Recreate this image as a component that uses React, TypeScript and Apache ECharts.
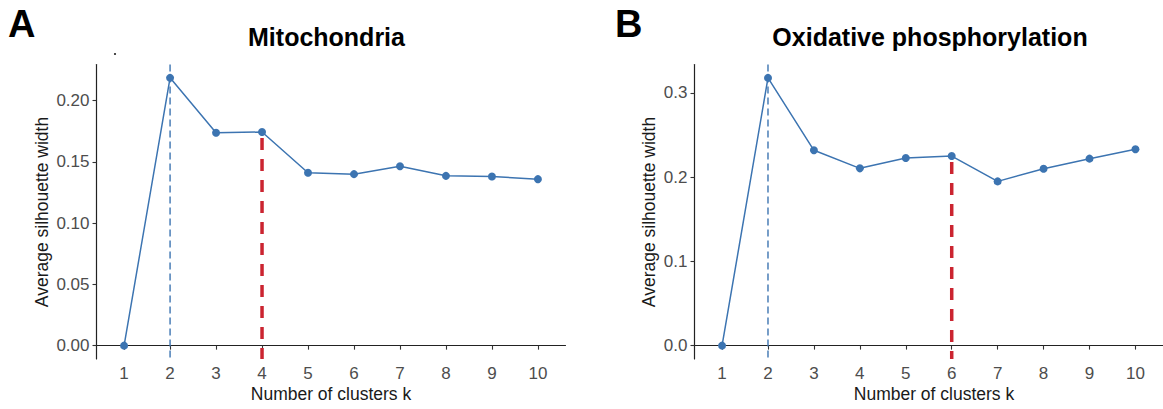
import React, { useEffect, useRef } from "react";
import * as echarts from "echarts";

// ---- data ----
const kValues = [1, 2, 3, 4, 5, 6, 7, 8, 9, 10];
const mitoSilhouette = [0, 0.2186, 0.1738, 0.1744, 0.1411, 0.14, 0.1465, 0.1386, 0.1381, 0.1359];
const oxphosSilhouette = [0, 0.3179, 0.2319, 0.2105, 0.2228, 0.2251, 0.195, 0.2101, 0.222, 0.2331];
const panelTitles = ["Mitochondria", "Oxidative phosphorylation"];
const panelLetters = ["A", "B"];
const bestK = [2, 2];
const chosenK = [4, 6];
const mitoTicks = [0, 0.05, 0.1, 0.15, 0.2];
const oxphosTicks = [0, 0.1, 0.2, 0.3];
const xRange = [0.4, 10.6];
const mitoRange = [-0.0109, 0.2295];
const oxphosRange = [-0.0159, 0.3338];
const xTitle = "Number of clusters k";
const yTitle = "Average silhouette width";

const BLUE = "#3C74B1";
const RED = "#CB2430";
const FONT = "Liberation Sans, Arial, sans-serif";

export default function App() {
  const ref = useRef<HTMLDivElement>(null);
  useEffect(() => {
    document.body.style.margin = "0";
    if (!ref.current) return;
    const chart = echarts.init(ref.current, null, { renderer: "svg" });

    const grids = [
      { left: 96.5, top: 64.5, width: 469, height: 294.5 },
      { left: 694.5, top: 64.5, width: 479.5, height: 294.5 },
    ];
    const ranges = [mitoRange, oxphosRange];
    const ticks = [mitoTicks, oxphosTicks];
    const decimals = [2, 1];
    const values = [mitoSilhouette, oxphosSilhouette];

    const axisLineStyle = { color: "#222", width: 1.2 };
    const xAxis = grids.map((_, i) => ({
      type: "value",
      gridIndex: i,
      min: xRange[0],
      max: xRange[1],
      splitLine: { show: false },
      axisLine: { show: true, lineStyle: axisLineStyle },
      axisTick: { show: true, length: 4, lineStyle: { color: "#333", width: 1.1 }, customValues: kValues },
      axisLabel: {
        customValues: kValues,
        margin: 6,
        fontSize: 17,
        color: "#4D4D4D",
        fontFamily: FONT,
      },
    }));
    const yAxis = grids.map((_, i) => ({
      type: "value",
      gridIndex: i,
      min: ranges[i][0],
      max: ranges[i][1],
      splitLine: { show: false },
      axisLine: { show: true, lineStyle: axisLineStyle },
      axisTick: { show: true, length: 4, lineStyle: { color: "#333", width: 1.1 }, customValues: ticks[i] },
      axisLabel: {
        customValues: ticks[i],
        margin: 7,
        fontSize: 17,
        color: "#4D4D4D",
        fontFamily: FONT,
        formatter: (v: number) => v.toFixed(decimals[i]),
      },
    }));

    const series: any[] = [];
    grids.forEach((_, i) => {
      series.push({
        type: "line",
        xAxisIndex: i,
        yAxisIndex: i,
        data: [
          [bestK[i], ranges[i][1]],
          [bestK[i], ranges[i][0]],
        ],
        symbol: "none",
        lineStyle: { color: BLUE, width: 1.4, type: [7, 4] },
        silent: true,
        z: 1,
      });
      series.push({
        type: "line",
        xAxisIndex: i,
        yAxisIndex: i,
        data: [
          [chosenK[i], values[i][chosenK[i] - 1]],
          [chosenK[i], ranges[i][0]],
        ],
        symbol: "none",
        lineStyle: { color: RED, width: 3.5, type: [12, 9], dashOffset: 15 },
        silent: true,
        z: 1,
      });
      series.push({
        type: "line",
        xAxisIndex: i,
        yAxisIndex: i,
        data: kValues.map((k, j) => [k, values[i][j]]),
        symbol: "circle",
        symbolSize: 8,
        itemStyle: { color: BLUE },
        lineStyle: { color: BLUE, width: 1.5 },
        z: 3,
      });
    });

    const graphic: any[] = [];
    const letterX = [8, 615];
    const titleX = [326.5, 930];
    const yTitleX = [42, 649];
    const xTitleX = [331, 934];
    for (let i = 0; i < 2; i++) {
      graphic.push({
        type: "text",
        x: letterX[i],
        y: 23.5,
        style: { text: panelLetters[i], font: `bold 38px ${FONT}`, fill: "#000", align: "left", verticalAlign: "middle" },
      });
      graphic.push({
        type: "text",
        x: titleX[i],
        y: 37,
        style: { text: panelTitles[i], font: `bold 25px ${FONT}`, fill: "#000", align: "center", verticalAlign: "middle" },
      });
      graphic.push({
        type: "text",
        x: yTitleX[i],
        y: 212,
        rotation: Math.PI / 2,
        style: { text: yTitle, font: `17.5px ${FONT}`, fill: "#1a1a1a", align: "center", verticalAlign: "middle" },
      });
      graphic.push({
        type: "text",
        x: xTitleX[i],
        y: 393.5,
        style: { text: xTitle, font: `17.5px ${FONT}`, fill: "#1a1a1a", align: "center", verticalAlign: "middle" },
      });
    }
    graphic.push({ type: "circle", shape: { cx: 115, cy: 54, r: 1.1 }, style: { fill: "#333" } });

    chart.setOption({
      animation: false,
      backgroundColor: "#fff",
      grid: grids,
      xAxis,
      yAxis,
      series,
      graphic,
    });
    return () => chart.dispose();
  }, []);
  return <div ref={ref} style={{ width: 1163, height: 409 }} />;
}
